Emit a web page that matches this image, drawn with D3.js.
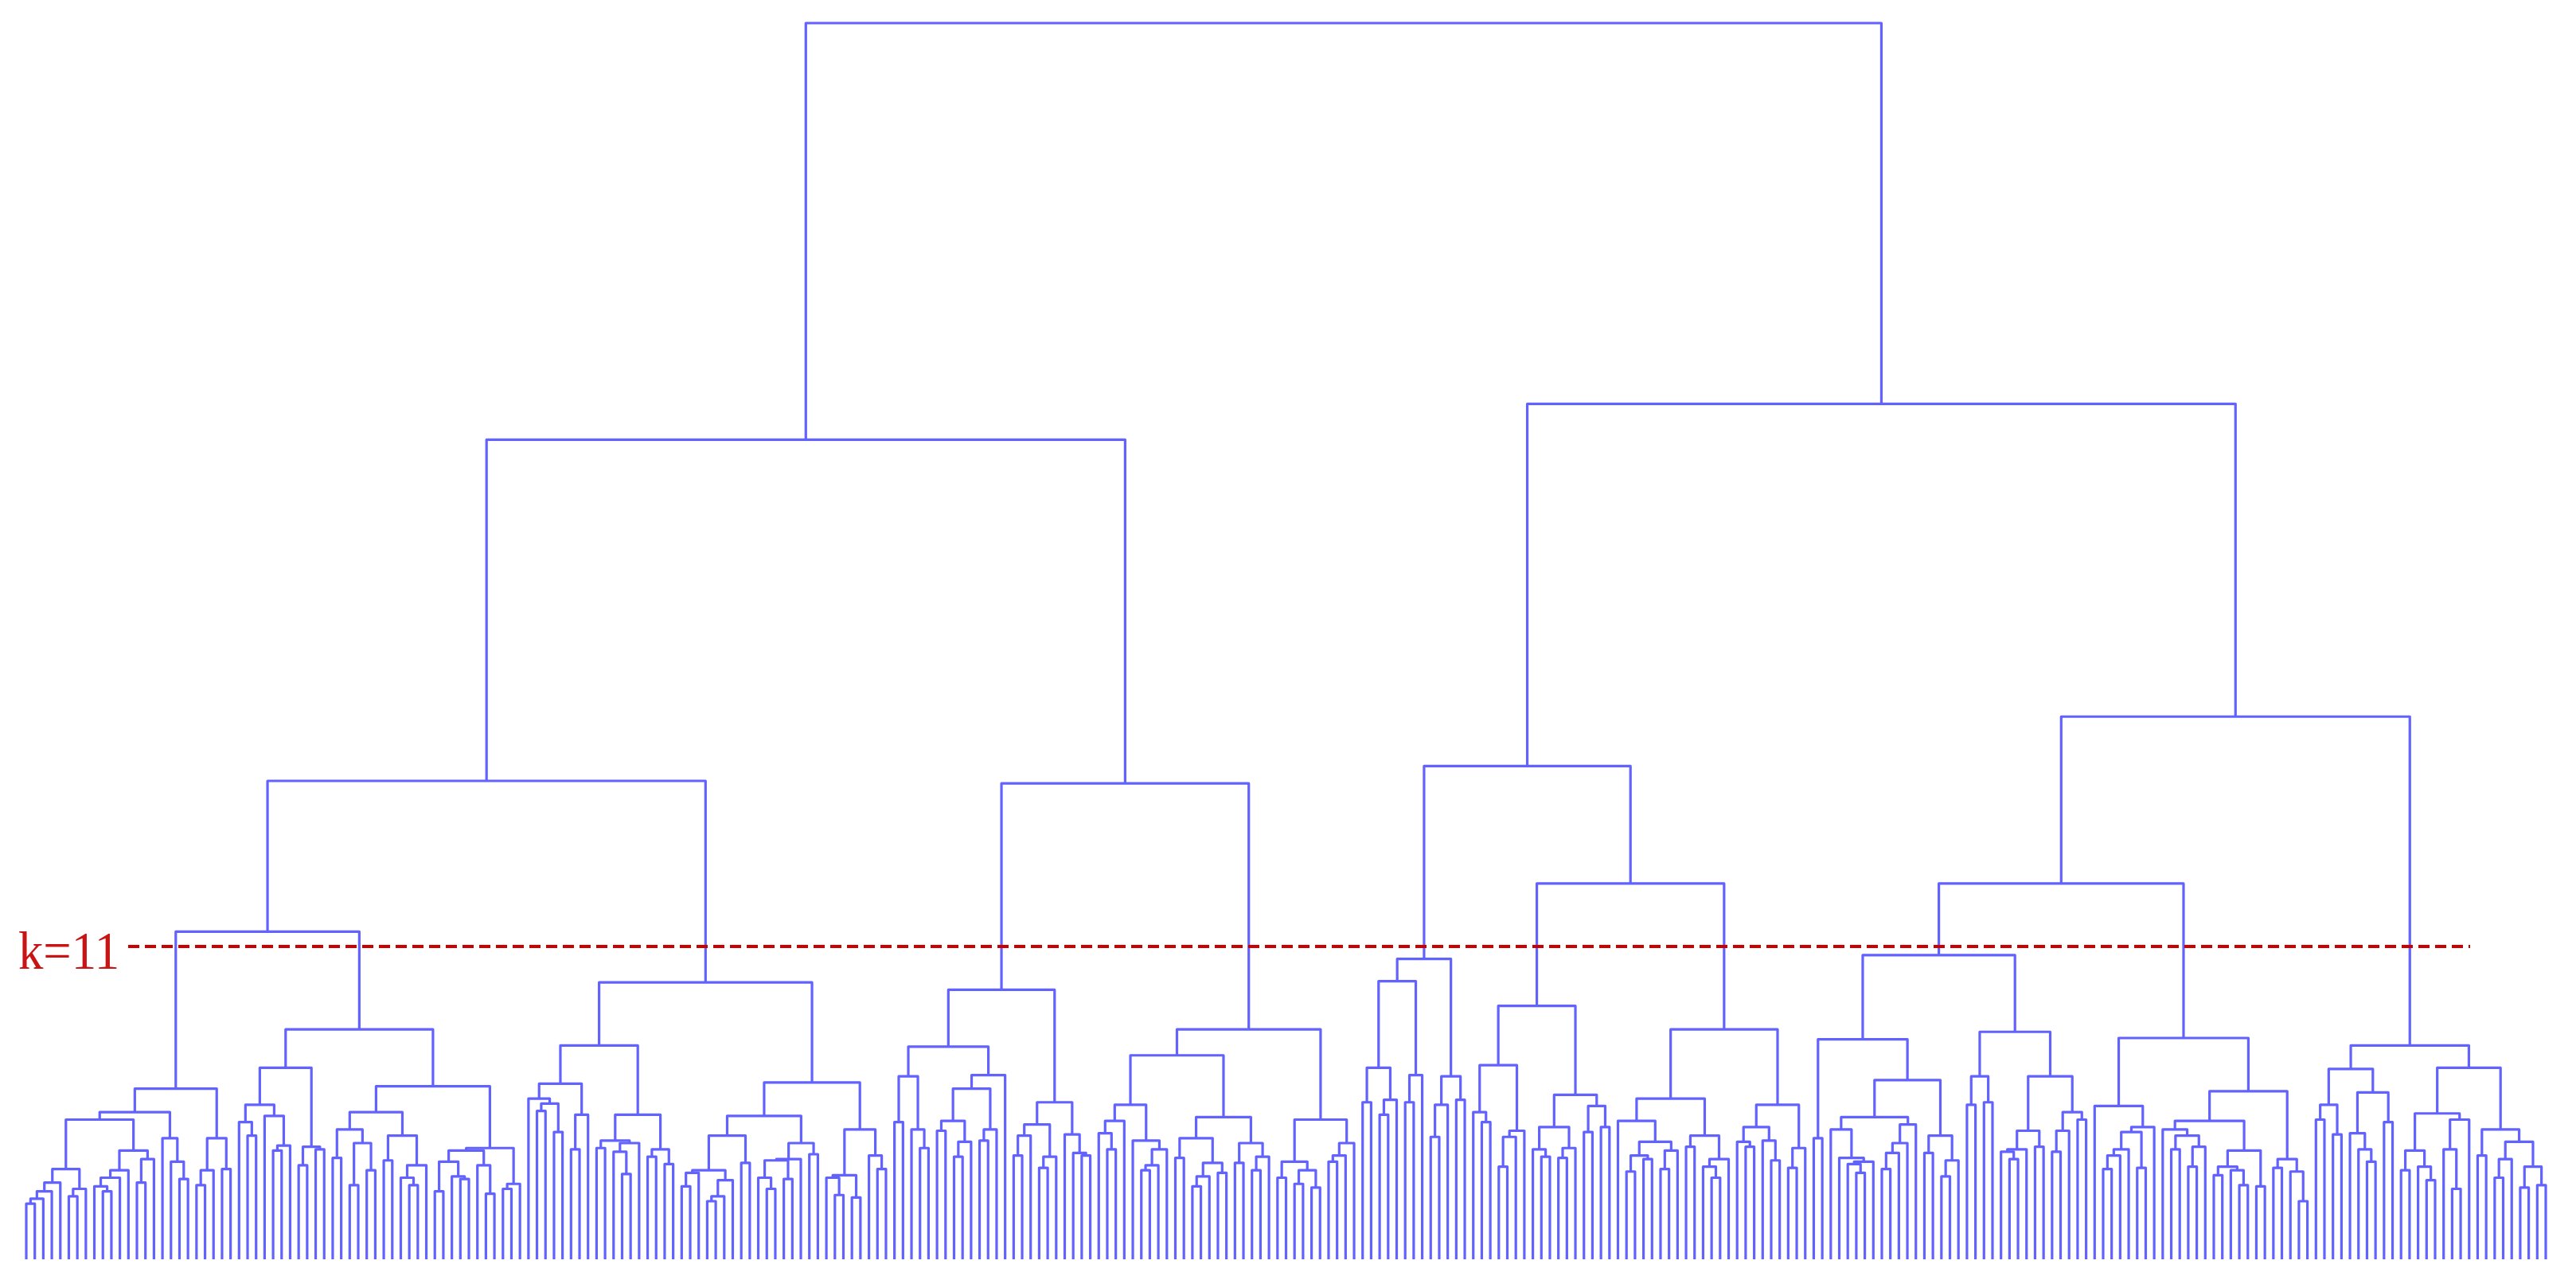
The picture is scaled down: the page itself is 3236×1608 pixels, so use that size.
<!DOCTYPE html>
<html lang="en">

<head>
    <meta charset="UTF-8">
    <title>Dendrogram, k=11</title>

    <script src="https://d3js.org/d3.v7.min.js"></script>

    <style>
        body {
            margin: 0;
            background: #fff;
        }

        svg {
            display: block;
        }

        .cutLabel {
            font-family: "Liberation Serif", "DejaVu Serif", serif;
            font-size: 68px;
            fill: #c81414;
        }
    </style>

</head>

<body>
    <svg width="3236" height="1608"></svg>

    <script>
        // merge heights; a node is [height, left, right], a leaf is 0
        const cutHeight = 25.3;
        const cutText = "k=11";

        const k1 = [13.8,
            [11.9,
                [11.3,
                    [7.3, [6.2, [5.5, [4.9, [4.5, 0, 0], 0], 0], 0], [5.7, [5.1, 0, 0], 0]],
                    [8.8, [7.2, [6.6, [5.9, 0, [5.5, 0, 0]], 0], 0], [8.1, [6.2, 0, 0], 0]]],
                [9.8, 0, [7.9, 0, [6.5, 0, 0]]]],
            [9.8, [7.2, [6.0, 0, 0], 0], [7.3, 0, 0]]];

        const k2 = [18.6,
            [15.5,
                [12.5, [11.1, 0, [10.0, 0, 0]], [11.6, 0, [9.2, [8.8, 0, 0], 0]]],
                [9.1, [7.6, 0, 0], [8.9, 0, 0]]],
            [14.0,
                [11.9,
                    [10.5, [8.2, 0, 0], [9.4, [6.0, 0, 0], [7.2, 0, 0]]],
                    [10.0, [8.0, 0, 0], [7.6, [6.6, 0, [6.0, 0, 0]], 0]]],
                [9.0,
                    [8.8, [7.9, [5.5, 0, 0], [6.7, 0, [6.5, 0, 0]]], [7.6, 0, [5.3, 0, 0]]],
                    [6.1, [5.7, 0, 0], 0]]]];

        const k3 = [22.4,
            [17.3,
                [14.2, [13.0, 0, [12.6, [12.0, 0, 0], [10.3, 0, 0]]], [11.7, [8.9, 0, 0], 0]],
                [11.7, [9.6, [9.0, 0, 0], [9.4, [8.7, 0, [6.9, 0, 0]], 0]], [8.9, [8.3, 0, 0], [7.7, 0, 0]]]],
            [14.3,
                [11.6,
                    [10.0, [7.2, [7.0, [5.9, 0, 0], 0], [6.4, [5.1, [4.7, 0, 0], 0], 0]], [7.8, 0, 0]],
                    [9.4, [8.1, [8.0, [6.6, 0, [5.7, 0, 0]], [6.5, 0, 0]], 0], [8.5, 0, 0]]],
                [10.5, [6.8, [6.6, 0, [5.2, 0, 0]], [5.0, 0, 0]], [8.4, 0, [7.3, 0, 0]]]]];

        const k4 = [21.8,
            [17.2,
                [14.8, [11.1, 0, 0], [10.5, 0, [9.0, 0, 0]]],
                [14.9, [13.8, [11.2, [10.4, 0, 0], [9.5, [8.3, 0, 0], 0]], [10.5, [9.6, 0, 0], 0]], 0]],
            [12.7,
                [10.9, [10.0, [8.4, 0, 0], 0], [8.3, [7.4, 0, 0], 0]],
                [10.1, 0, [8.6, 0, [8.4, 0, 0]]]]];

        const k5 = [18.6,
            [16.5,
                [12.5, [11.2, [10.2, 0, [8.9, 0, 0]], 0], [9.6, 0, [8.9, [7.6, [7.2, 0, 0], 0], 0]]],
                [11.5, [9.8, [8.2, 0, 0], [7.8, [6.7, [5.9, 0, 0], 0], [7.0, 0, 0]]], [9.4, [7.8, 0, 0], [8.3, [7.2, 0, 0], 0]]]],
            [11.3,
                [7.9, [6.6, 0, 0], [7.2, [6.1, 0, 0], [5.8, 0, 0]]],
                [9.4, [8.4, [7.9, 0, 0], 0], 0]]];

        const k6 = [24.3,
            [22.5, [15.5, [12.7, 0, 0], [12.9, [11.7, 0, 0], 0]], [14.9, [12.7, 0, 0], 0]],
            [14.8, [12.5, [9.9, 0, 0], 0], [12.9, 0, 0]]];

        const k7 = [20.5,
            [15.7, [11.9, 0, [11.1, 0, 0]], [10.4, [9.9, [7.5, 0, 0], 0], 0]],
            [13.3, [10.7, [8.9, 0, [8.3, 0, 0]], [9.0, [8.2, 0, 0], 0]], [12.4, [10.3, 0, 0], [10.7, 0, 0]]]];

        const k8 = [18.6,
            [13.0,
                [11.2, 0, [9.5, [8.4, [7.1, 0, 0], [8.1, 0, 0]], [8.8, [7.3, 0, 0], 0]]],
                [10.0, [9.1, 0, 0], [8.1, [7.5, 0, [6.6, 0, 0]], 0]]],
            [12.5, [10.7, [9.5, 0, [9.1, 0, 0]], [9.6, 0, [8.0, 0, 0]]], [9.0, [7.4, 0, 0], 0]]];

        const k9 = [24.6,
            [17.8,
                [9.8, 0, 0],
                [14.5,
                    [11.5, [10.5, 0, [8.2, 0, [7.9, [7.7, 0, [7.0, 0, 0]], 0]]], [10.9, [9.4, [8.6, [7.3, 0, 0], 0], 0], 0]],
                    [10.0, [8.6, 0, 0], [8.0, [6.7, 0, 0], 0]]]],
            [18.4,
                [14.8, [12.5, 0, 0], [12.7, 0, 0]],
                [14.8, [10.4, [8.9, [8.7, 0, [8.1, 0, 0]], 0], [9.1, 0, 0]], [11.9, [10.4, [8.7, 0, 0], 0], [11.3, 0, 0]]]]];

        const k10 = [17.9,
            [12.4, 0, [10.7, [10.3, [8.9, [8.4, [7.3, 0, 0], 0], 0], [7.4, 0, 0]], 0]],
            [13.6,
                [11.2, [10.5, 0, [10.0, [8.9, 0, 0], [9.1, [7.5, 0, 0], 0]]], [8.8, [7.5, [6.8, 0, 0], [7.2, 0, [6.0, 0, 0]]], [5.9, 0, 0]]],
                [8.1, [7.4, 0, 0], [7.1, 0, [4.7, 0, 0]]]]];

        const k11 = [17.3,
            [15.4, [12.5, [11.3, 0, 0], [10.1, 0, 0]], [13.5, [10.2, 0, [8.9, 0, [7.9, 0, 0]]], [11.1, 0, 0]]],
            [15.5,
                [11.8, [8.8, [7.2, 0, 0], [7.5, 0, [6.4, 0, 0]]], [11.3, [8.9, 0, [5.7, 0, 0]], 0]],
                [10.5, [8.4, 0, 0], [9.5, [8.1, [6.6, 0, 0], 0], [7.5, [5.8, 0, 0], [6.0, 0, 0]]]]]];

        // merges above the cut, joining the eleven clusters
        const upperTree = [100,
            [66.3, [38.7, [26.5, "k1", "k2"], "k3"], [38.5, "k4", "k5"]],
            [69.2, [39.9, "k6", [30.4, "k7", "k8"]], [43.9, [30.4, "k9", "k10"], "k11"]]];

        const clusters = { k1, k2, k3, k4, k5, k6, k7, k8, k9, k10, k11 };

        function expand(node) {
            if (typeof node === "string") return expand(clusters[node]);
            if (Array.isArray(node)) return [node[0], expand(node[1]), expand(node[2])];
            return node;
        }

        let svgContainer = d3.select("svg");

        const root = d3.hierarchy(expand(upperTree), function (d) {
            return Array.isArray(d) ? d.slice(1) : null;
        });
        d3.cluster().size([1, 1]).separation(function () { return 1; })(root);

        const leaves = root.leaves();
        const xScale = d3.scaleLinear()
            .domain([leaves[0].x, leaves[leaves.length - 1].x])
            .range([33, 3198]);
        const yScale = d3.scaleLinear()
            .domain([0, 100])
            .range([1582, 29]);

        const nodeX = function (d) { return xScale(d.x); };
        const nodeY = function (d) { return yScale(Array.isArray(d.data) ? d.data[0] : 0); };

        svgContainer.append("g")
            .selectAll("path")
            .data(root.descendants().filter(function (d) { return d.children; }))
            .enter()
            .append("path")
            .attr("d", function (d) {
                const a = d.children[0], b = d.children[1];
                return "M" + nodeX(a) + "," + nodeY(a) + "V" + nodeY(d) + "H" + nodeX(b) + "V" + nodeY(b);
            })
            .attr("fill", "none")
            .attr("stroke", "#6262ff")
            .attr("stroke-width", 3.2)
            .attr("stroke-linejoin", "round");

        // cut line
        svgContainer.append("line")
            .attr("x1", 161)
            .attr("x2", 3103)
            .attr("y1", yScale(cutHeight))
            .attr("y2", yScale(cutHeight))
            .attr("stroke", "#cc0000")
            .attr("stroke-width", 4)
            .attr("stroke-dasharray", "14,7");

        svgContainer.append("text")
            .attr("class", "cutLabel")
            .attr("x", 23)
            .attr("y", 1217)
            .attr("textLength", 127)
            .attr("lengthAdjust", "spacingAndGlyphs")
            .text(cutText);
    </script>
</body>

</html>
